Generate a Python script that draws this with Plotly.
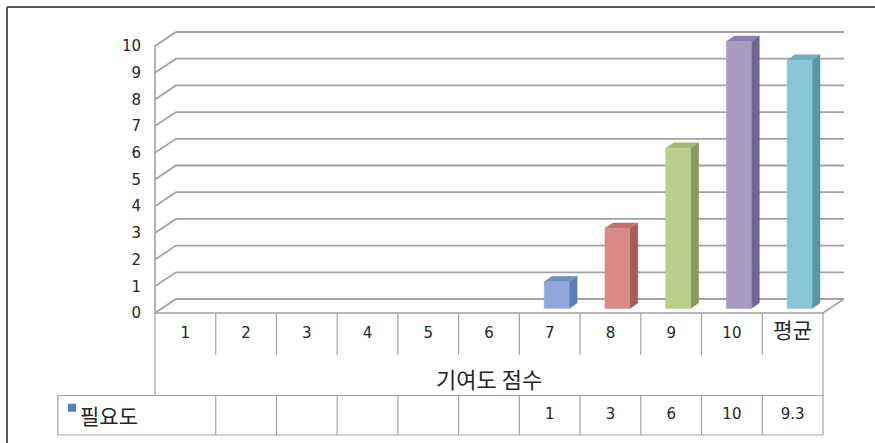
import plotly.graph_objects as go

# 데이터
categories = ["1", "2", "3", "4", "5", "6", "7", "8", "9", "10", "평균"]
values = [None, None, None, None, None, None, 1, 3, 6, 10, 9.3]
table_text = ["", "", "", "", "", "", "1", "3", "6", "10", "9.3"]
series_name = "필요도"
axis_title = "기여도 점수"
y_ticks = [0, 1, 2, 3, 4, 5, 6, 7, 8, 9, 10]

# excel 2007 style palette (face, side, top), cycled per point
palette = [
    ("#8DA9DB", "#5B7DB3", "#7391C6"),  # blue
    ("#D98A86", "#A45C58", "#C27370"),  # red
    ("#BACF8C", "#87995D", "#A2B774"),  # green
    ("#A89BC3", "#716594", "#8E80AE"),  # purple
    ("#8AC4D8", "#5B95AA", "#72AEC3"),  # aqua
    ("#F9B878", "#C4844A", "#E29E5E"),  # orange
]

n = len(categories)
DX, DY = 0.346, 0.524      # depth offset (x units, y units)
D0, D1 = 0.33, 0.71        # bar front/back depth
BW = 0.41                  # bar width
X_RANGE = [-2.552, 11.856]
Y_RANGE = [-4.869, 11.723]
LABEL_BOTTOM = -1.57
TABLE_TOP = -3.09
TABLE_BOTTOM = -4.57
TABLE_LEFT = -1.6
TABLE_ROW = -3.82
TITLE_Y = -2.43

GRID = "#A3A3A3"
TXT = "#262626"

fig = go.Figure()

# back wall gridlines
gx, gy = [], []
for v in y_ticks:
    gx += [0, DX, n + DX, None]
    gy += [v, v + DY, v + DY, None]
fig.add_trace(go.Scatter(x=gx, y=gy, mode="lines", line=dict(color=GRID, width=1.8),
                         hoverinfo="skip", showlegend=False))

# floor + left front edge
fig.add_trace(go.Scatter(x=[0, 0, n, n + DX], y=[y_ticks[-1], 0, 0, DY], mode="lines",
                         line=dict(color=GRID, width=1.6), hoverinfo="skip", showlegend=False))

# 3d columns
for i, v in enumerate(values):
    if v is None:
        continue
    face, side, top = palette[i % len(palette)]
    xl = i + 0.5 - BW / 2 + D0 * DX
    xr = xl + BW
    y0 = D0 * DY
    yt = v + D0 * DY
    w = D1 - D0
    fig.add_trace(go.Scatter(x=[xr, xr, xr + w * DX, xr + w * DX, xr],
                             y=[y0, yt, yt + w * DY, y0 + w * DY, y0],
                             fill="toself", fillcolor=side, mode="lines", line=dict(width=0.5, color=side),
                             hoverinfo="skip", showlegend=False))
    fig.add_trace(go.Scatter(x=[xl, xr, xr + w * DX, xl + w * DX, xl],
                             y=[yt, yt, yt + w * DY, yt + w * DY, yt],
                             fill="toself", fillcolor=top, mode="lines", line=dict(width=0.5, color=top),
                             hoverinfo="skip", showlegend=False))
    fig.add_trace(go.Scatter(x=[xl, xr, xr, xl, xl], y=[y0, y0, yt, yt, y0],
                             fill="toself", fillcolor=face, mode="lines", line=dict(width=0.5, color=face),
                             name=categories[i], hovertemplate="%{text}<extra></extra>",
                             text=[f"{categories[i]}: {v}"] * 5, showlegend=False))

# category area + data table lines
lx, ly = [], []
for i in range(n + 1):
    if i == 0:
        lx += [0, 0, None]
        ly += [0, TABLE_TOP, None]
    elif i == n:
        lx += [n, n, None]
        ly += [0, TABLE_BOTTOM, None]
    else:
        lx += [i, i, None, i, i, None]
        ly += [0, LABEL_BOTTOM, None, TABLE_TOP, TABLE_BOTTOM, None]
lx += [TABLE_LEFT, n, None, TABLE_LEFT, n, None, TABLE_LEFT, TABLE_LEFT]
ly += [TABLE_TOP, TABLE_TOP, None, TABLE_BOTTOM, TABLE_BOTTOM, None, TABLE_TOP, TABLE_BOTTOM]
fig.add_trace(go.Scatter(x=lx, y=ly, mode="lines", line=dict(color=GRID, width=1.2),
                         hoverinfo="skip", showlegend=False))

# table values
fig.add_trace(go.Scatter(x=[i + 0.5 for i in range(n)], y=[TABLE_ROW] * n, mode="text",
                         text=table_text, textfont=dict(family="DejaVu Sans", size=15, color=TXT),
                         hoverinfo="skip", showlegend=False))

# legend key + series name
fig.add_trace(go.Scatter(x=[-1.367], y=[TABLE_ROW + 0.27], mode="markers",
                         marker=dict(symbol="square", size=8, color="#4F81BD"),
                         hoverinfo="skip", showlegend=False))
fig.add_annotation(x=-1.27, y=TABLE_ROW, xref="x", yref="y", text=series_name, showarrow=False,
                   xanchor="left", yanchor="middle",
                   font=dict(family="Noto Sans CJK KR", size=21, color=TXT))

# axis title
fig.add_annotation(x=n / 2, y=TITLE_Y, xref="x", yref="y", text=axis_title, showarrow=False,
                   font=dict(family="Noto Sans CJK KR", size=22, color=TXT))

tick_text = [c if c.isdigit() else f"<span style='font-size:21px'>{c}</span>" for c in categories]

fig.update_layout(
    width=875, height=443,
    margin=dict(l=0, r=0, t=0, b=0),
    paper_bgcolor="white", plot_bgcolor="white",
    showlegend=False,
    xaxis=dict(range=X_RANGE, anchor="free",
               position=(0 - Y_RANGE[0]) / (Y_RANGE[1] - Y_RANGE[0]),
               tickvals=[i + 0.5 for i in range(n)], ticktext=tick_text,
               tickfont=dict(family="DejaVu Sans, Noto Sans CJK KR", size=15, color=TXT),
               ticks="", ticklabelstandoff=9,
               showgrid=False, zeroline=False, showline=False, fixedrange=True),
    yaxis=dict(range=Y_RANGE, anchor="free",
               position=(0 - X_RANGE[0]) / (X_RANGE[1] - X_RANGE[0]),
               tickvals=y_ticks,
               tickfont=dict(family="DejaVu Sans", size=15, color=TXT),
               ticks="", ticklabelstandoff=14,
               showgrid=False, zeroline=False, showline=False, fixedrange=True),
)

# outer frame (top + left visible in the crop)
fig.add_shape(type="line", xref="paper", yref="paper", x0=7 / 875, x1=1, y0=1 - 7 / 443, y1=1 - 7 / 443,
              line=dict(color="#595959", width=2))
fig.add_shape(type="line", xref="paper", yref="paper", x0=7 / 875, x1=7 / 875, y0=0, y1=1 - 7 / 443,
              line=dict(color="#595959", width=2))

fig.write_html("out.html", config={"displayModeBar": False},
               post_script="document.body.style.margin='0px';")
